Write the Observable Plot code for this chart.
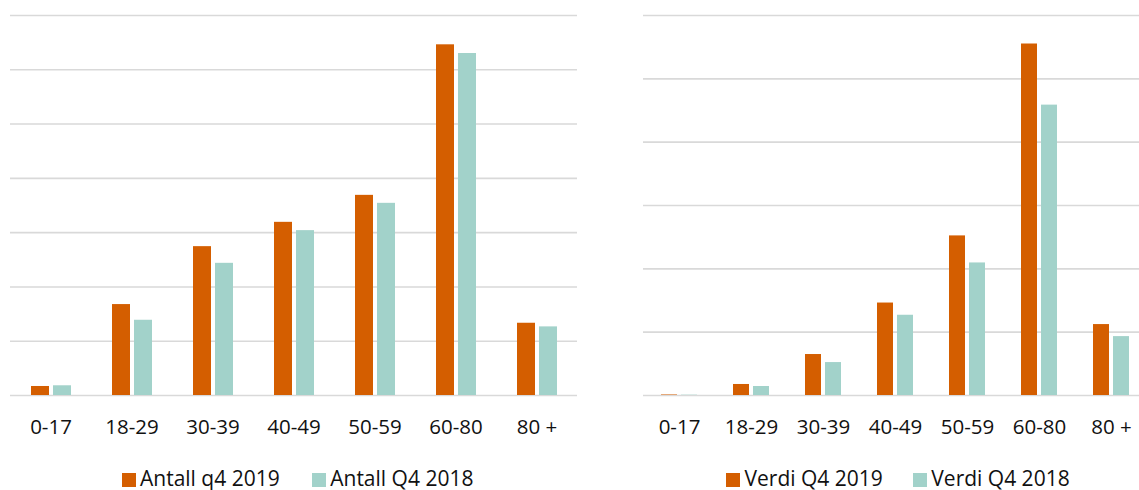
<!DOCTYPE html>
<html>
<head>
<meta charset="utf-8">
<script src="https://cdn.jsdelivr.net/npm/d3@7"></script>
<script src="https://cdn.jsdelivr.net/npm/@observablehq/plot@0.6"></script>
<style>
  html, body { margin: 0; padding: 0; background: #fff; }
  #wrap { position: relative; width: 1139px; height: 490px; overflow: hidden; font-family: "Open Sans", sans-serif; }
  .panel { position: absolute; top: 0; }
  .legend { position: absolute; top: 467.5px; display: flex; align-items: flex-start; font-size: 21px; color: #111; white-space: nowrap; line-height: 21px; }
  .legend .item { display: flex; align-items: flex-start; }
  .legend .sw { width: 14px; height: 14px; margin-top: 5px; margin-right: 4.5px; }
</style>
</head>
<body>
<div id="wrap"></div>
<script>
const categories = ["0-17", "18-29", "30-39", "40-49", "50-59", "60-80", "80 +"];

const antallSeries = ["Antall q4 2019", "Antall Q4 2018"];
const antall2019 = [166, 1675, 2742, 3190, 3687, 6460, 1331];
const antall2018 = [179, 1386, 2435, 3037, 3540, 6300, 1264];
const antallTicks = [0, 1000, 2000, 3000, 4000, 5000, 6000, 7000];

const verdiSeries = ["Verdi Q4 2019", "Verdi Q4 2018"];
const verdi2019 = [8, 174, 647, 1460, 2520, 5550, 1120];
const verdi2018 = [5, 142, 520, 1267, 2093, 4585, 930];
const verdiTicks = [0, 1000, 2000, 3000, 4000, 5000, 6000];

const colors = ["#d45e00", "#a2d2ca"];

function rowsOf(series, a, b) {
  const rows = [];
  categories.forEach((c, i) => {
    rows.push({cat: c, series: series[0], value: a[i]});
    rows.push({cat: c, series: series[1], value: b[i]});
  });
  return rows;
}

function panel(series, a, b, ticks, opts) {
  return Plot.plot({
    width: 580,
    height: 450,
    marginTop: 15,
    marginBottom: 55,
    marginLeft: opts.marginLeft,
    marginRight: opts.marginRight,
    style: {fontFamily: "Open Sans", fontSize: "20.5px", color: "#111", background: "transparent"},
    fx: {domain: categories, padding: 0, axis: "bottom", tickSize: 0, tickPadding: 24, label: null},
    x: {domain: series, axis: null, paddingInner: 0.187, paddingOuter: 0.863},
    y: {domain: [ticks[0], ticks[ticks.length - 1]], axis: null},
    color: {domain: series, range: colors},
    marks: [
      Plot.ruleY(ticks, {stroke: "#d9d9d9", strokeWidth: 1.6}),
      Plot.barY(rowsOf(series, a, b), {fx: "cat", x: "series", y: "value", fill: "series"})
    ]
  });
}

function legend(series, left, gap) {
  const div = document.createElement("div");
  div.className = "legend";
  div.style.left = left + "px";
  div.style.gap = gap + "px";
  series.forEach((s, i) => {
    const item = document.createElement("div");
    item.className = "item";
    const sw = document.createElement("div");
    sw.className = "sw";
    sw.style.background = colors[i];
    const t = document.createElement("span");
    t.textContent = s;
    item.appendChild(sw);
    item.appendChild(t);
    div.appendChild(item);
  });
  return div;
}

const wrap = document.getElementById("wrap");

const p1 = panel(antallSeries, antall2019, antall2018, antallTicks, {marginLeft: 8, marginRight: 2});
p1.classList.add("panel");
p1.style.left = "0px";
wrap.appendChild(p1);

const p2 = panel(verdiSeries, verdi2019, verdi2018, verdiTicks, {marginLeft: 63, marginRight: 13});
p2.classList.add("panel");
p2.style.left = "580px";
wrap.appendChild(p2);

wrap.appendChild(legend(antallSeries, 121.5, 32));
wrap.appendChild(legend(verdiSeries, 726, 30));
</script>
</body>
</html>
